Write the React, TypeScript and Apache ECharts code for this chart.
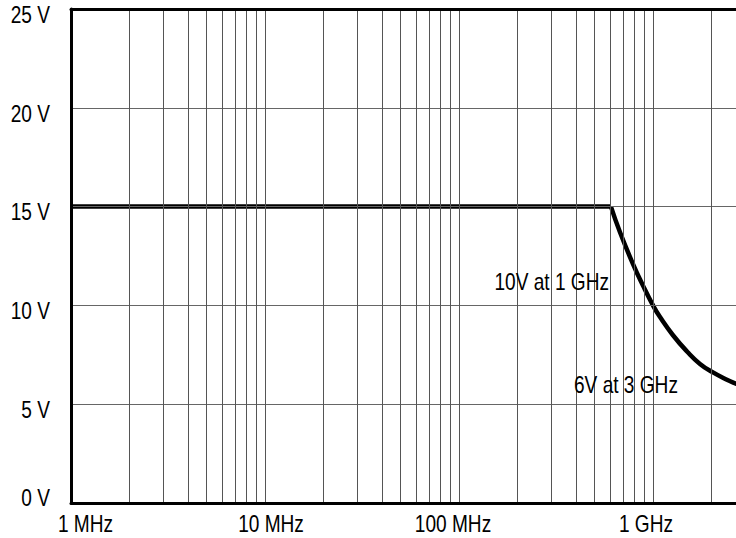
import React, { useEffect, useRef } from "react";
import * as echarts from "echarts";

// ---- data ----
const flatFreqMHz = [1, 607];
const flatVolts = [15, 15];
const rolloffFreqMHz = [607, 676, 789, 888, 1000, 1087, 1268, 1497, 1747, 2038, 2405, 2677, 3000];
const rolloffVolts = [15, 13.7, 12.09, 11.0, 10.0, 9.41, 8.49, 7.67, 7.04, 6.61, 6.24, 6.04, 5.85];
const decadeMHz = [1, 10, 100, 1000];
const gridMultipliers = [1, 2, 3, 4, 5, 6, 7, 8, 9];
const xTickLabels = ["1 MHz", "10 MHz", "100 MHz", "1 GHz"];
const yTicks = [0, 5, 10, 15, 20, 25];
const annotations = ["10V at 1 GHz", "6V at 3 GHz"];

// ---- layout / style ----
const FONT = "'Liberation Sans', Arial, sans-serif";
const FS = 23;
const SX = 0.83;
const xLabelDx = [14.5, 6, -6, -7];
const xLabelDy = 21.3;
const yLabelDy = [-4.7, 5.5, 5, 5.5, 6, 6];
const yLabelRight = 50;

export default function App() {
  const ref = useRef<HTMLDivElement>(null);
  useEffect(() => {
    document.body.style.margin = "0";
    const chart = echarts.init(ref.current!, undefined, { renderer: "svg" });
    const gridFreqs: number[] = [];
    decadeMHz.forEach((d) => gridMultipliers.forEach((m) => gridFreqs.push(d * m)));
    gridFreqs.push(10000);
    const axisLine = { show: true, lineStyle: { color: "#000", width: 3 } };
    chart.setOption({
      animation: false,
      backgroundColor: "#fff",
      grid: { left: 71, top: 9, width: 776, height: 494 },
      xAxis: [
        {
          type: "log",
          logBase: 10,
          min: 1,
          max: 10000,
          position: "bottom",
          axisLine,
          axisTick: { show: false },
          splitLine: { show: false },
          axisLabel: { show: false },
          z: 5,
        },
        {
          type: "log",
          logBase: 10,
          min: 1,
          max: 10000,
          position: "top",
          axisLine,
          axisTick: { show: false },
          axisLabel: { show: false },
          splitLine: { show: false },
          z: 5,
        },
      ],
      yAxis: {
        type: "value",
        min: yTicks[0],
        max: yTicks[yTicks.length - 1],
        interval: 5,
        axisLine,
        axisTick: { show: false },
        axisLabel: { show: false },
        splitLine: { show: true, lineStyle: { color: "#666", width: 1 } },
        z: 5,
      },
      series: [
        {
          type: "line",
          data: [],
          z: 1,
          silent: true,
          markLine: {
            silent: true,
            symbol: ["none", "none"],
            label: { show: false },
            lineStyle: { color: "#555", width: 1, type: "solid" },
            data: gridFreqs.map((f) => ({ xAxis: f })),
          },
        },
        {
          type: "line",
          data: flatFreqMHz.map((f, i) => [f, flatVolts[i]]),
          showSymbol: false,
          lineStyle: { color: "#000", width: 4.5 },
          z: 3,
        },
        {
          type: "line",
          data: rolloffFreqMHz.map((f, i) => [f, rolloffVolts[i]]),
          showSymbol: false,
          smooth: 0.5,
          lineStyle: { color: "#000", width: 4.5, join: "round" },
          z: 3,
        },
      ],
    });

    const txt = (text: string, x: number, y: number, align: string) => ({
      type: "text",
      x,
      y,
      scaleX: SX,
      z: 10,
      silent: true,
      style: {
        text,
        fontFamily: FONT,
        fontSize: FS,
        fill: "#000",
        align,
        verticalAlign: "middle",
      },
    });
    const y0 = chart.convertToPixel({ yAxisIndex: 0 }, 0) as number;
    const graphics: any[] = [];
    decadeMHz.forEach((d, i) => {
      const px = chart.convertToPixel({ xAxisIndex: 0 }, d) as number;
      graphics.push(txt(xTickLabels[i], px + xLabelDx[i], y0 + xLabelDy, "center"));
    });
    yTicks.forEach((v, i) => {
      const py = chart.convertToPixel({ yAxisIndex: 0 }, v) as number;
      graphics.push(txt(`${v} V`, yLabelRight, py + yLabelDy[i], "right"));
    });
    graphics.push(txt(annotations[0], 609, 281.5, "right"));
    graphics.push(txt(annotations[1], 574, 384.7, "left"));
    chart.setOption({ graphic: graphics });
    return () => chart.dispose();
  }, []);
  return (
    <div style={{ width: 736, height: 538, overflow: "hidden", position: "relative", background: "#fff" }}>
      <div ref={ref} style={{ width: 900, height: 538 }} />
    </div>
  );
}
